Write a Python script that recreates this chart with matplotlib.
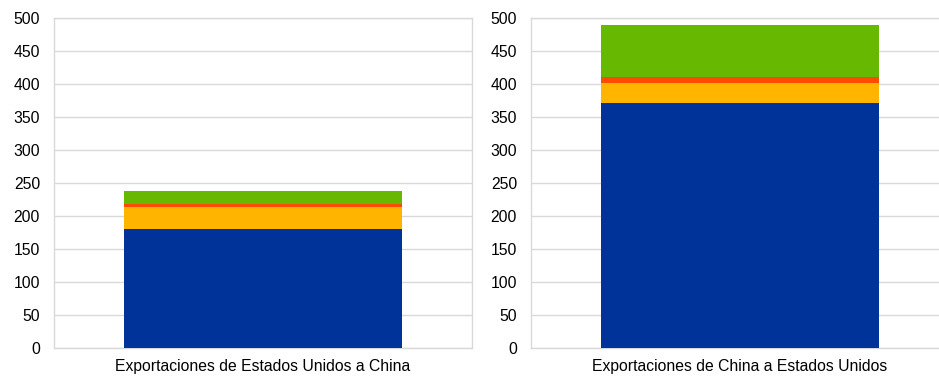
import matplotlib
matplotlib.use("Agg")
from matplotlib import pyplot as plt

plt.rcParams['font.family'] = ['Liberation Sans', 'DejaVu Sans']

# data (stacked segments, bottom to top)
labels = ["Exportaciones de Estados Unidos a China", "Exportaciones de China a Estados Unidos"]
blue = [181, 371]
yellow = [32, 31]
red = [5, 9]
green = [20.5, 79]

colors = ["#003399", "#FFB400", "#FF4B00", "#66B800"]
grid_col = "#D9D9D9"

fig = plt.figure(figsize=(9.39, 3.76), dpi=100)
W, H = 939, 376
positions = [(54, 472), (531, 949)]

for i, (x0, x1) in enumerate(positions):
    ax = fig.add_axes([x0 / W, 1 - 348 / H, (x1 - x0) / W, 330 / H])
    bottom = 0
    for vals, c in zip([blue, yellow, red, green], colors):
        ax.bar([0], [vals[i]], width=1.0, bottom=bottom, color=c, zorder=3)
        bottom += vals[i]
    ax.set_xlim(-0.75, 0.75)
    ax.set_ylim(0, 500)
    ax.set_yticks(range(0, 501, 50))
    ax.set_xticks([0])
    ax.set_xticklabels([labels[i]])
    ax.tick_params(axis='both', length=0, labelsize=11.3, colors='black')
    ax.tick_params(axis='y', pad=10)
    ax.tick_params(axis='x', pad=8)
    ax.yaxis.grid(True, color=grid_col, linewidth=1, zorder=0)
    for s in ax.spines.values():
        s.set_color(grid_col)
        s.set_linewidth(1)

fig.savefig("out.png", dpi=100)
